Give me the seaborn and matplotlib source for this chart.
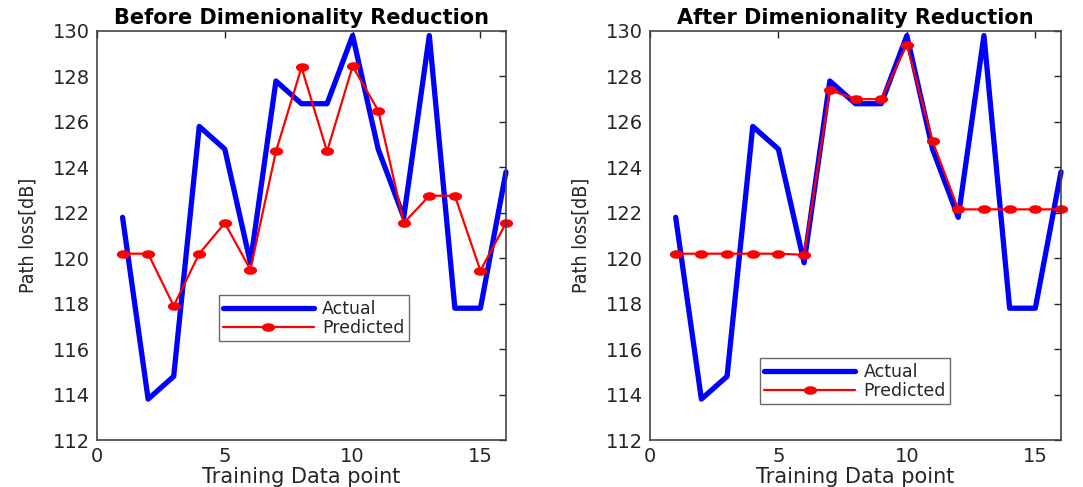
import matplotlib
matplotlib.use("Agg")
import matplotlib.pyplot as plt
import seaborn as sns
import pandas as pd
import numpy as np
from matplotlib import font_manager
from matplotlib.path import Path

sns.set_theme(style="white")
plt.rcParams["font.family"] = ["DejaVu Sans"]

points = list(range(1, 17))
actual = [121.8, 113.8, 114.8, 125.8, 124.8, 119.8, 127.8, 126.8,
          126.8, 129.8, 124.8, 121.8, 129.8, 117.8, 117.8, 123.8]
pred_before = [120.2, 120.2, 117.9, 120.2, 121.55, 119.5, 124.7, 128.4,
               124.7, 128.45, 126.5, 121.55, 122.75, 122.75, 119.45, 121.55]
pred_after = [120.2, 120.2, 120.2, 120.2, 120.2, 120.15, 127.4, 127.0,
              127.0, 129.4, 125.15, 122.15, 122.15, 122.15, 122.15, 122.15]
titles = ["Before Dimenionality Reduction", "After Dimenionality Reduction"]
xticks = [0, 5, 10, 15]
yticks = [112, 114, 116, 118, 120, 122, 124, 126, 128, 130]

# narrow face for the y-axis label
condensed = [f for f in font_manager.fontManager.ttflist
             if f.name == "DejaVu Sans" and "ondensed" in f.fname
             and "Bold" not in f.fname and "Oblique" not in f.fname]
if condensed:
    ylab_font = font_manager.FontProperties(fname=condensed[0].fname, size=14)
else:
    ylab_font = font_manager.FontProperties(family="Liberation Sans", size=14)

# wide oval marker for the predicted points
theta = np.linspace(0, 2 * np.pi, 40)
oval = Path(np.column_stack([np.cos(theta), 0.65 * np.sin(theta)]), closed=True)

fig = plt.figure(figsize=(10.83, 4.87), dpi=100)
W, H = 1083, 487
ax_boxes = [(97, 31, 506, 440), (650, 31, 1061, 440)]
legend_pos = [(0.298, 0.242), (0.268, 0.088)]
text_c = "#262626"

for i, (pred, title) in enumerate(zip([pred_before, pred_after], titles)):
    l, t, r, b = ax_boxes[i]
    ax = fig.add_axes([l / W, (H - b) / H, (r - l) / W, (b - t) / H])
    df = pd.DataFrame({"point": points, "actual": actual, "pred": pred})
    sns.lineplot(data=df, x="point", y="actual", ax=ax, color="#0000ff",
                 linewidth=3.8, label="Actual", clip_on=False)
    sns.lineplot(data=df, x="point", y="pred", ax=ax, color="#ff0000",
                 linewidth=1.6, marker=oval, markersize=9.5, markeredgewidth=0,
                 label="Predicted", clip_on=False)
    ax.set_xlim(0, 16)
    ax.set_ylim(112, 130)
    ax.set_xticks(xticks)
    ax.set_yticks(yticks)
    ax.tick_params(direction="in", length=5, width=1, top=True, right=True,
                   labelsize=14, colors=text_c, pad=5)
    for lab in ax.get_xticklabels() + ax.get_yticklabels():
        lab.set_color(text_c)
    for s in ax.spines.values():
        s.set_visible(True)
        s.set_color("#444444")
        s.set_linewidth(1.2)
    ax.set_xlabel("Training Data point", fontsize=15, color=text_c, labelpad=1)
    ax.set_ylabel("Path loss[dB]", fontproperties=ylab_font, color=text_c,
                  labelpad=11)
    ax.set_title(title, fontsize=15, fontweight="bold", color="black", pad=5)
    leg = ax.legend(loc="lower left", bbox_to_anchor=legend_pos[i],
                    borderaxespad=0, fontsize=12.5, frameon=True,
                    fancybox=False, handlelength=5.2, borderpad=0.25,
                    labelspacing=0.05, handletextpad=0.5)
    leg.get_frame().set_edgecolor("#444444")
    leg.get_frame().set_linewidth(1.0)
    for txt in leg.get_texts():
        txt.set_color(text_c)

fig.savefig("out.png", dpi=100)
